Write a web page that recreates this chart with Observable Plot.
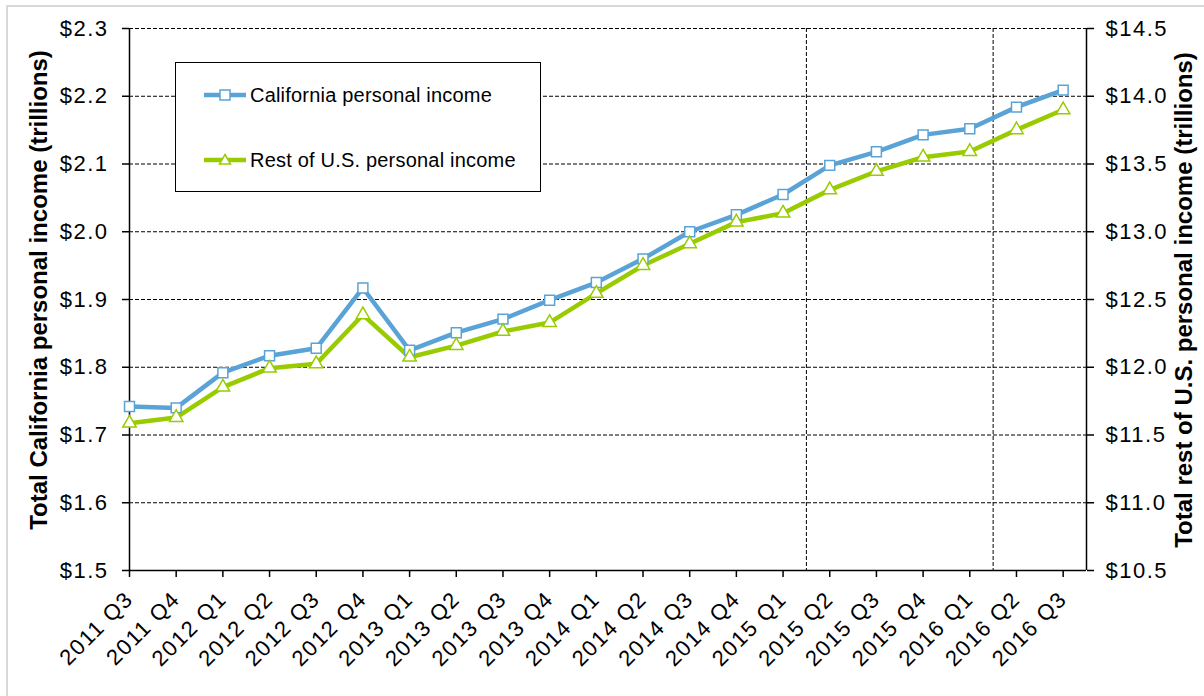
<!DOCTYPE html>
<html>
<head>
<meta charset="utf-8">
<script src="https://cdn.jsdelivr.net/npm/d3@7"></script>
<script src="https://cdn.jsdelivr.net/npm/@observablehq/plot@0.6"></script>
<style>
  html, body { margin: 0; padding: 0; background: #fff; width: 1204px; height: 696px; overflow: hidden; }
  #wrap { position: relative; width: 1204px; height: 696px; font-family: "Liberation Sans", Arial, sans-serif; }
  #frame { position: absolute; left: 6px; top: 5px; width: 1400px; height: 900px; border: 2px solid #d9d9d9; box-sizing: border-box; }
  #chart { position: absolute; left: 0; top: 0; }
  #chart svg g[aria-label$="tick label"] text { font-size: 22px; letter-spacing: 1.5px; }
  .ytitle { position: absolute; font-weight: bold; font-size: 24px; white-space: nowrap; color: #000;
            transform: translate(-50%, -50%) rotate(-90deg); }
  #legend { position: absolute; left: 175px; top: 62px; width: 366px; height: 130px; box-sizing: border-box;
            border: 1.5px solid #000; background: #fff; }
  .lg { position: absolute; left: 28px; height: 24px; display: flex; align-items: center; font-size: 20px; letter-spacing: 0.2px; color: #000; white-space: nowrap; }
  .lg svg { margin-right: 4px; }
</style>
</head>
<body>
<div id="wrap">
  <div id="frame"></div>
  <div id="chart"></div>
  <div class="ytitle" id="ltitle" style="left:39px; top:290px;"></div>
  <div class="ytitle" id="rtitle" style="left:1184px; top:300px;"></div>
  <div id="legend"></div>
</div>
<script>
const quarters = ["2011 Q3","2011 Q4","2012 Q1","2012 Q2","2012 Q3","2012 Q4","2013 Q1","2013 Q2","2013 Q3","2013 Q4",
  "2014 Q1","2014 Q2","2014 Q3","2014 Q4","2015 Q1","2015 Q2","2015 Q3","2015 Q4","2016 Q1","2016 Q2","2016 Q3"];
// California personal income ($ trillions, left axis)
const caIncome = [1.742, 1.740, 1.792, 1.817, 1.828, 1.917, 1.825, 1.851, 1.871, 1.899, 1.925,
  1.960, 2.000, 2.025, 2.055, 2.098, 2.118, 2.143, 2.152, 2.184, 2.209];
// Rest of U.S. personal income ($ trillions, right axis)
const usIncome = [11.587, 11.629, 11.853, 11.993, 12.025, 12.387, 12.074, 12.160, 12.264, 12.330, 12.545,
  12.751, 12.911, 13.071, 13.137, 13.309, 13.445, 13.550, 13.592, 13.752, 13.900];
const leftTicks = [1.5, 1.6, 1.7, 1.8, 1.9, 2.0, 2.1, 2.2, 2.3];
const leftTickLabels = ["$1.5","$1.6","$1.7","$1.8","$1.9","$2.0","$2.1","$2.2","$2.3"];
const rightTickLabels = ["$10.5","$11.0","$11.5","$12.0","$12.5","$13.0","$13.5","$14.0","$14.5"];
const leftDomain = [1.5, 2.3];
const rightDomain = [10.5, 14.5];
const xDomain = [0, 20.5];
const dividers = [14.5, 18.5];
const seriesNames = ["California personal income", "Rest of U.S. personal income"];
const leftTitle = "Total California personal income (trillions)";
const rightTitle = "Total rest of U.S. personal income (trillions)";

const blue = "#5aa3d6";
const green = "#99cc00";

const toLeft = d3.scaleLinear().domain(rightDomain).range(leftDomain);
const data = quarters.map((q, i) => ({ i, q, ca: caIncome[i], us: usIncome[i], usLeft: toLeft(usIncome[i]) }));

const dash = "4,2";
const fs = 22;
const chart = Plot.plot({
  width: 1204, height: 696,
  marginLeft: 129, marginRight: 118, marginTop: 28, marginBottom: 126,
  x: { type: "linear", domain: xDomain },
  y: { domain: leftDomain },
  style: { fontFamily: "'Liberation Sans', Arial, sans-serif", fontSize: fs + "px", color: "#000", background: "transparent", overflow: "visible" },
  marks: [
    Plot.ruleY(leftTicks.slice(1), { stroke: "#000", strokeWidth: 1, strokeDasharray: dash }),
    Plot.ruleX(dividers, { stroke: "#000", strokeWidth: 1, strokeDasharray: dash }),
    Plot.ruleY([leftDomain[0]], { stroke: "#000", strokeWidth: 1.5 }),
    Plot.ruleX(xDomain, { stroke: "#000", strokeWidth: 1.5 }),
    Plot.axisY({ anchor: "left", ticks: leftTicks, tickFormat: d => leftTickLabels[leftTicks.indexOf(d)], tickSize: 7, tickPadding: 14, label: null, strokeWidth: 1.5, fontSize: fs }),
    Plot.axisY({ anchor: "right", ticks: leftTicks, tickFormat: d => rightTickLabels[leftTicks.indexOf(d)], tickSize: 7, tickPadding: 12, label: null, strokeWidth: 1.5, fontSize: fs }),
    Plot.axisX({ ticks: d3.range(quarters.length), tickFormat: i => quarters[i], tickRotate: -45, tickSize: 7, tickPadding: 18, label: null, strokeWidth: 1.5, fontSize: fs }),
    Plot.line(data, { x: "i", y: "ca", stroke: blue, strokeWidth: 4.5 }),
    Plot.line(data, { x: "i", y: "usLeft", stroke: green, strokeWidth: 4.5 }),
    Plot.dot(data, { x: "i", y: "ca", symbol: "square", r: 5.6, fill: "#fff", stroke: blue, strokeWidth: 1.5 }),
    Plot.dot(data, { x: "i", y: "usLeft", symbol: "triangle", r: 5, fill: "#fff", stroke: green, strokeWidth: 1.5 })
  ]
});
document.getElementById("chart").appendChild(chart);
document.getElementById("ltitle").textContent = leftTitle;
document.getElementById("rtitle").textContent = rightTitle;

// Legend
const legend = document.getElementById("legend");
const entries = [
  { name: seriesNames[0], color: blue, sym: "square", top: 20 },
  { name: seriesNames[1], color: green, sym: "triangle", top: 85 }
];
for (const e of entries) {
  const row = document.createElement("div");
  row.className = "lg";
  row.style.top = e.top + "px";
  const marker = e.sym === "square"
    ? `<rect x="16" y="7" width="10" height="10" fill="#fff" stroke="${e.color}" stroke-width="1.5"/>`
    : `<path d="M21,6.5 L26.5,16 L15.5,16 Z" fill="#fff" stroke="${e.color}" stroke-width="1.5"/>`;
  row.innerHTML = `<svg width="42" height="24"><line x1="0" x2="42" y1="12" y2="12" stroke="${e.color}" stroke-width="4.5"/>${marker}</svg><span>${e.name}</span>`;
  legend.appendChild(row);
}
</script>
</body>
</html>
